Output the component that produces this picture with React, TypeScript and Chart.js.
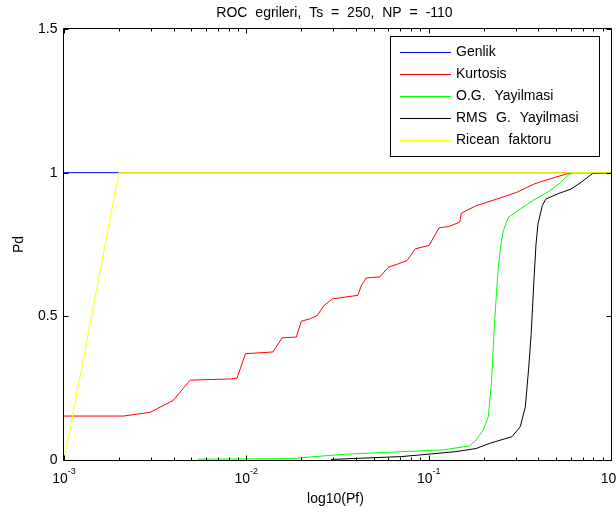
import React, { useEffect, useRef } from "react";
import { Chart, registerables } from "chart.js";

Chart.register(...registerables);

const TITLE = "ROC egrileri, Ts = 250, NP = -110";
const X_LABEL = "log10(Pf)";
const Y_LABEL = "Pd";

const SERIES_NAMES = ["Genlik", "Kurtosis", "O.G. Yayilmasi", "RMS G. Yayilmasi", "Ricean faktoru"];
const SERIES_COLORS = ["#0000ff", "#ff0000", "#00ff00", "#000000", "#ffff00"];

const X_MIN = 0.001;
const X_MAX = 1;
const Y_MIN = 0;
const Y_MAX = 1.5;
const Y_TICKS = [0, 0.5, 1, 1.5];
const Y_TICK_LABELS = ["0", "0.5", "1", "1.5"];
const X_DECADES = [0.001, 0.01, 0.1, 1];
const X_DECADE_EXPONENTS = ["-3", "-2", "-1", "0"];
const X_MINOR_MULTIPLIERS = [2, 3, 4, 5, 6, 7, 8, 9];

const genlikPf = [0.001, 0.002, 1];
const genlikPd = [1, 1, 1];

const kurtosisPf = [0.001, 0.00212, 0.00297, 0.00398, 0.00492, 0.00817, 0.00889, 0.00989, 0.014, 0.0157, 0.0188, 0.02, 0.0225, 0.0245, 0.0267, 0.0297, 0.0409, 0.0428, 0.0455, 0.054, 0.0601, 0.0684, 0.076, 0.0845, 0.1005, 0.114, 0.13, 0.148, 0.151, 0.182, 0.236, 0.305, 0.377, 0.429, 0.553, 0.603, 1];
const kurtosisPd = [0.153, 0.153, 0.166, 0.208, 0.278, 0.282, 0.285, 0.37, 0.376, 0.425, 0.428, 0.483, 0.492, 0.503, 0.538, 0.561, 0.573, 0.608, 0.634, 0.637, 0.671, 0.683, 0.694, 0.735, 0.747, 0.808, 0.813, 0.828, 0.859, 0.885, 0.908, 0.932, 0.96, 0.972, 0.993, 1.0, 1.0];

const ogPf = [0.00545, 0.0175, 0.0345, 0.0713, 0.119, 0.1675, 0.182, 0.199, 0.212, 0.221, 0.228, 0.234, 0.241, 0.249, 0.257, 0.274, 0.318, 0.377, 0.448, 0.531, 0.578, 0.617, 1];
const ogPd = [0.003, 0.005, 0.02, 0.029, 0.035, 0.049, 0.069, 0.104, 0.15, 0.266, 0.44, 0.556, 0.671, 0.752, 0.799, 0.845, 0.874, 0.905, 0.932, 0.966, 0.99, 1.0, 1.0];

const rmsPf = [0.0291, 0.0713, 0.1026, 0.141, 0.182, 0.216, 0.286, 0.318, 0.339, 0.354, 0.365, 0.377, 0.388, 0.398, 0.42, 0.439, 0.509, 0.603, 0.685, 0.796, 1];
const rmsPd = [0.002, 0.012, 0.021, 0.029, 0.04, 0.058, 0.081, 0.116, 0.185, 0.324, 0.44, 0.613, 0.752, 0.822, 0.885, 0.908, 0.926, 0.943, 0.966, 0.998, 1.0];

const riceanPf = [0.001, 0.002, 1];
const riceanPd = [0, 1, 1];

const SERIES_PF = [genlikPf, kurtosisPf, ogPf, rmsPf, riceanPf];
const SERIES_PD = [genlikPd, kurtosisPd, ogPd, rmsPd, riceanPd];

const FONT = "'Liberation Sans', Arial, Helvetica, sans-serif";

const matlabDecor = {
  id: "matlabDecor",
  afterDatasetsDraw(chart: any) {
    const { ctx, chartArea: a, scales } = chart;
    const xs = scales.x;
    const ys = scales.y;
    const L = Math.floor(a.left) - 0.5;
    const R = Math.floor(a.right) + 0.5;
    const T = Math.floor(a.top) - 0.5;
    const B = Math.floor(a.bottom) + 0.5;
    ctx.save();
    const anyCtx = ctx as any;
    anyCtx.letterSpacing = "0px";
    anyCtx.wordSpacing = "0px";

    // axes box
    ctx.strokeStyle = "#000";
    ctx.lineWidth = 1;
    ctx.beginPath();
    ctx.rect(L, T, R - L, B - T);
    ctx.stroke();

    // x ticks (inward, top and bottom)
    const MAJ = 5;
    const MIN = 3;
    ctx.beginPath();
    X_DECADES.forEach((d, i) => {
      const px = Math.round(xs.getPixelForValue(d)) + 0.5;
      ctx.moveTo(px, B); ctx.lineTo(px, B - MAJ);
      ctx.moveTo(px, T); ctx.lineTo(px, T + MAJ);
      if (i < X_DECADES.length - 1) {
        X_MINOR_MULTIPLIERS.forEach((m) => {
          const v = d * m;
          const p = Math.round(xs.getPixelForValue(v)) + 0.5;
          ctx.moveTo(p, B); ctx.lineTo(p, B - MIN);
          ctx.moveTo(p, T); ctx.lineTo(p, T + MIN);
        });
      }
    });
    Y_TICKS.forEach((v) => {
      const py = Math.round(ys.getPixelForValue(v)) + 0.5;
      ctx.moveTo(L, py); ctx.lineTo(L + MAJ, py);
      ctx.moveTo(R, py); ctx.lineTo(R - MAJ, py);
    });
    ctx.stroke();

    ctx.fillStyle = "#000";
    // y tick labels
    ctx.font = `14px ${FONT}`;
    ctx.textAlign = "right";
    ctx.textBaseline = "middle";
    Y_TICKS.forEach((v, i) => {
      ctx.fillText(Y_TICK_LABELS[i], 57.5, ys.getPixelForValue(v));
    });

    // x tick labels: 10^exp
    ctx.textAlign = "left";
    ctx.textBaseline = "alphabetic";
    X_DECADES.forEach((d, i) => {
      const px = xs.getPixelForValue(d);
      ctx.font = `14px ${FONT}`;
      const wb = ctx.measureText("10").width;
      ctx.font = `9px ${FONT}`;
      const ws = ctx.measureText(X_DECADE_EXPONENTS[i]).width;
      const start = px - (wb + ws) / 2;
      ctx.font = `14px ${FONT}`;
      ctx.fillText("10", start, 483);
      ctx.font = `9px ${FONT}`;
      ctx.fillText(X_DECADE_EXPONENTS[i], start + wb, 474);
    });

    // axis labels and title
    const cx = (a.left + a.right) / 2;
    ctx.font = `14px ${FONT}`;
    ctx.textAlign = "center";
    ctx.textBaseline = "alphabetic";
    ctx.fillText(X_LABEL, cx - 2, 503);
    anyCtx.wordSpacing = "4px";
    ctx.fillText(TITLE, cx - 3, 17);
    anyCtx.wordSpacing = "0px";

    ctx.save();
    ctx.translate(19, (a.top + a.bottom) / 2);
    ctx.rotate(-Math.PI / 2);
    ctx.textAlign = "center";
    ctx.textBaseline = "middle";
    ctx.fillText(Y_LABEL, 0, 0);
    ctx.restore();

    // legend
    const bx = 390.5, by = 36.5, bw = 209, bh = 120;
    ctx.fillStyle = "#fff";
    ctx.fillRect(bx, by, bw, bh);
    ctx.strokeStyle = "#000";
    ctx.strokeRect(bx, by, bw, bh);
    const rowY = [52.5, 74.5, 96.5, 118.5, 140.5];
    chart.data.datasets.forEach((ds: any, i: number) => {
      const y = rowY[i];
      ctx.strokeStyle = ds.borderColor;
      ctx.lineWidth = 1;
      ctx.beginPath();
      ctx.moveTo(400, y);
      ctx.lineTo(451, y);
      ctx.stroke();
      ctx.fillStyle = "#000";
      ctx.font = `14px ${FONT}`;
      ctx.textAlign = "left";
      ctx.textBaseline = "middle";
      anyCtx.wordSpacing = "5px";
      ctx.fillText(ds.label, 456, y);
      anyCtx.wordSpacing = "0px";
    });

    ctx.restore();
  },
};

export default function App() {
  const ref = useRef<HTMLCanvasElement>(null);
  useEffect(() => {
    const datasets = SERIES_NAMES.map((name, i) => ({
      label: name,
      data: SERIES_PF[i].map((x, j) => ({ x, y: SERIES_PD[i][j] })),
      borderColor: SERIES_COLORS[i],
      backgroundColor: SERIES_COLORS[i],
      borderWidth: 1,
      pointRadius: 0,
      tension: 0,
      fill: false,
      order: SERIES_NAMES.length - i,
    }));
    const chart = new Chart(ref.current as HTMLCanvasElement, {
      type: "line",
      data: { datasets },
      options: {
        responsive: false,
        animation: false,
        devicePixelRatio: 1,
        layout: { padding: { left: 64, top: 29, right: 5, bottom: 53 } },
        scales: {
          x: { type: "logarithmic", min: X_MIN, max: X_MAX, display: false },
          y: { type: "linear", min: Y_MIN, max: Y_MAX, display: false },
        },
        plugins: {
          legend: { display: false },
          tooltip: { enabled: false },
          title: { display: false },
        },
        elements: { point: { radius: 0 }, line: { tension: 0 } },
      },
      plugins: [matlabDecor],
    } as any);
    return () => chart.destroy();
  }, []);
  return (
    <div style={{ position: "fixed", left: 0, top: 0, width: 616, height: 513, background: "#fff" }}>
      <canvas ref={ref} width={616} height={513} style={{ display: "block", width: 616, height: 513 }} />
    </div>
  );
}
